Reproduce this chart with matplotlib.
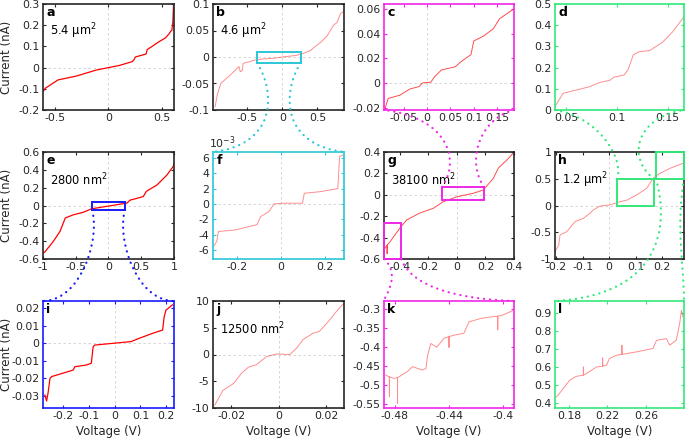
import numpy as np
import matplotlib
matplotlib.use("Agg")
import matplotlib.pyplot as plt
from matplotlib.patches import Rectangle, PathPatch
from matplotlib.path import Path
from matplotlib.ticker import FuncFormatter

plt.rcParams["font.family"] = "DejaVu Sans"
plt.rcParams["axes.unicode_minus"] = False

# ---------------------------------------------------------------------------
# I-V traces (V in volts, I in nA)
# ---------------------------------------------------------------------------
a_v = [-0.605, -0.59, -0.47, -0.30, -0.11, 0.0, 0.10, 0.22, 0.235, 0.25, 0.35, 0.36,
       0.40, 0.47, 0.53, 0.565, 0.58, 0.59, 0.60, 0.605]
a_i = [-0.11, -0.098, -0.058, -0.04, -0.011, 0.0, 0.01, 0.028, 0.035, 0.05, 0.064, 0.085,
       0.098, 0.122, 0.14, 0.16, 0.172, 0.175, 0.22, 0.29]

b_v = [-0.96, -0.93, -0.88, -0.76, -0.65, -0.62, -0.60, -0.57, -0.56, -0.5, -0.4, -0.3,
       -0.1, 0.0, 0.2, 0.3, 0.4, 0.45, 0.55, 0.64, 0.73, 0.78, 0.83, 0.88]
b_i = [-0.094, -0.072, -0.05, -0.036, -0.022, -0.018, -0.028, -0.025, -0.012, -0.01, -0.006,
       -0.004, -0.002, 0.0, 0.003, 0.007, 0.012, 0.018, 0.028, 0.04, 0.06, 0.065, 0.082, 0.086]

c_v = [-0.09, -0.083, -0.058, -0.037, -0.017, -0.01, 0.008, 0.016, 0.031, 0.06, 0.072,
       0.094, 0.10, 0.121, 0.142, 0.155, 0.178, 0.186]
c_i = [-0.021, -0.0126, -0.010, -0.005, -0.003, 0.0, 0.0005, 0.005, 0.0105, 0.013, 0.017,
       0.023, 0.034, 0.038, 0.044, 0.052, 0.058, 0.060]

d_v = [0.039, 0.047, 0.060, 0.073, 0.083, 0.093, 0.097, 0.107, 0.111, 0.116, 0.122,
       0.132, 0.145, 0.155, 0.166]
d_i = [0.016, 0.079, 0.094, 0.11, 0.13, 0.14, 0.155, 0.165, 0.19, 0.26, 0.275,
       0.28, 0.32, 0.37, 0.44]

e_v = [-0.99, -0.97, -0.84, -0.74, -0.66, -0.54, -0.38, -0.26, 0.02, 0.28, 0.33, 0.53,
       0.58, 0.74, 0.89, 0.99, 1.0]
e_i = [-0.53, -0.52, -0.40, -0.29, -0.14, -0.105, -0.075, -0.037, -0.004, 0.027, 0.06,
       0.10, 0.16, 0.23, 0.34, 0.44, 0.47]

f_v = [-0.308, -0.293, -0.285, -0.208, -0.109, -0.093, -0.055, -0.032, 0.007, 0.098,
       0.106, 0.175, 0.259, 0.267, 0.282]
f_i = [-0.0056, -0.0049, -0.0036, -0.0034, -0.0027, -0.00165, -0.0010, 0.0, 0.0001,
       0.0001, 0.0014, 0.0016, 0.0020, 0.0062, 0.0064]

g_v = [-0.505, -0.49, -0.49, -0.49, -0.47, -0.435, -0.40, -0.353, -0.26, -0.166, -0.096,
       0.0, 0.114, 0.185, 0.255, 0.29, 0.35, 0.395]
g_i = [-0.50, -0.47, -0.55, -0.47, -0.44, -0.375, -0.31, -0.235, -0.17, -0.126, -0.064,
       -0.018, 0.014, 0.045, 0.154, 0.25, 0.325, 0.39]

h_v = [-0.204, -0.19, -0.185, -0.16, -0.128, -0.097, -0.072, -0.06, -0.034, 0.004, 0.04,
       0.067, 0.104, 0.142, 0.167, 0.192, 0.23, 0.28]
h_i = [-0.86, -0.74, -0.55, -0.49, -0.30, -0.24, -0.146, -0.085, -0.01, 0.01, 0.07,
       0.10, 0.196, 0.32, 0.51, 0.60, 0.695, 0.79]

i_v = [-0.27, -0.263, -0.257, -0.25, -0.243, -0.16, -0.154, -0.109, -0.09, -0.083, -0.077,
       -0.006, 0.064, 0.096, 0.147, 0.186, 0.192, 0.199, 0.224]
i_i = [-0.0296, -0.033, -0.028, -0.020, -0.019, -0.0153, -0.0134, -0.0124, -0.0114, -0.002,
       -0.001, 0.0, 0.001, 0.0029, 0.0057, 0.0076, 0.0152, 0.019, 0.022]

j_v = [-0.027, -0.0235, -0.019, -0.0157, -0.0129, -0.0094, -0.0052, -0.001, 0.0046, 0.0075,
       0.0102, 0.0144, 0.017, 0.0215, 0.0243, 0.027]
j_i = [-9.5, -6.7, -5.4, -3.5, -2.4, -1.9, -0.4, 0.1, 0.0, 1.2, 2.8, 4.0, 4.3, 6.5, 8.1, 9.4]

k_v = [-0.4868, -0.484, -0.484, -0.484, -0.4806, -0.478, -0.478, -0.478, -0.4707, -0.467,
       -0.4597, -0.457, -0.456, -0.4535, -0.449, -0.4437, -0.440, -0.440, -0.440, -0.4363,
       -0.429, -0.4252, -0.4166, -0.4068, -0.404, -0.404, -0.404, -0.401, -0.392]
k_i = [-0.473, -0.478, -0.53, -0.478, -0.482, -0.48, -0.547, -0.48, -0.464, -0.451,
       -0.46, -0.456, -0.425, -0.39, -0.40, -0.376, -0.372, -0.40, -0.372, -0.368,
       -0.363, -0.333, -0.324, -0.319, -0.318, -0.354, -0.318, -0.316, -0.302]

l_v = [0.165, 0.170, 0.1807, 0.1877, 0.195, 0.195, 0.195, 0.198, 0.2085, 0.215, 0.215,
       0.215, 0.219, 0.222, 0.229, 0.235, 0.235, 0.235, 0.25, 0.2673, 0.2709, 0.2812,
       0.2847, 0.2915, 0.295, 0.2968, 0.2985]
l_i = [0.424, 0.452, 0.526, 0.548, 0.555, 0.60, 0.555, 0.563, 0.60, 0.605, 0.65, 0.605,
       0.61, 0.647, 0.665, 0.67, 0.72, 0.67, 0.684, 0.703, 0.748, 0.758, 0.721, 0.75,
       0.841, 0.915, 0.878]

# Axis ranges / ticks per panel
LIMS = {
    "a": ((-0.61, 0.61), (-0.2, 0.3), [-0.5, 0, 0.5], [-0.2, -0.1, 0, 0.1, 0.2, 0.3]),
    "b": ((-0.99, 0.88), (-0.1, 0.1), [-0.5, 0, 0.5], [-0.1, -0.05, 0, 0.05, 0.1]),
    "c": ((-0.092, 0.186), (-0.022, 0.064), [-0.05, 0, 0.05, 0.1, 0.15], [-0.02, 0, 0.02, 0.04, 0.06]),
    "d": ((0.039, 0.166), (0, 0.5), [0.05, 0.1, 0.15], [0, 0.1, 0.2, 0.3, 0.4, 0.5]),
    "e": ((-1, 1), (-0.6, 0.6), [-1, -0.5, 0, 0.5, 1], [-0.6, -0.4, -0.2, 0, 0.2, 0.4, 0.6]),
    "f": ((-0.31, 0.287), (-0.0072, 0.0068), [-0.2, 0, 0.2], [-0.006, -0.004, -0.002, 0, 0.002, 0.004, 0.006]),
    "g": ((-0.512, 0.4), (-0.6, 0.4), [-0.4, -0.2, 0, 0.2, 0.4], [-0.6, -0.4, -0.2, 0, 0.2, 0.4]),
    "h": ((-0.204, 0.283), (-1, 1), [-0.2, -0.1, 0, 0.1, 0.2], [-1, -0.5, 0, 0.5, 1]),
    "i": ((-0.277, 0.23), (-0.037, 0.0242), [-0.2, -0.1, 0, 0.1, 0.2], [-0.03, -0.02, -0.01, 0, 0.01, 0.02]),
    "j": ((-0.0277, 0.0274), (-10, 10), [-0.02, 0, 0.02], [-10, -5, 0, 5, 10]),
    "k": ((-0.488, -0.392), (-0.56, -0.278), [-0.48, -0.44, -0.4], [-0.55, -0.5, -0.45, -0.4, -0.35, -0.3]),
    "l": ((0.1655, 0.2995), (0.372, 0.967), [0.18, 0.22, 0.26], [0.4, 0.5, 0.6, 0.7, 0.8, 0.9]),
}
AREAS = {"a": "5.4 μm$^2$", "b": "4.6 μm$^2$", "e": "2800 nm$^2$",
         "g": "38100 nm$^2$", "h": "1.2 μm$^2$", "j": "12500 nm$^2$"}

# zoom windows drawn in the parent panels (xmin, xmax, ymin, ymax)
zoom_b_f = (-0.36, 0.26, -0.011, 0.010)
zoom_e_i = (-0.25, 0.25, -0.048, 0.042)
zoom_g_c = (-0.105, 0.19, -0.049, 0.073)
zoom_g_k = (-0.51, -0.39, -0.6, -0.264)
zoom_h_d = (0.03, 0.17, 0.0, 0.495)
zoom_h_l = (0.177, 0.283, 0.5, 1.0)

# ---------------------------------------------------------------------------
# Layout (pixels)
# ---------------------------------------------------------------------------
W, H = 685, 438
COL_X = [(43, 174), (213, 344), (384, 514), (555, 684)]
ROW_Y = [(4, 110), (152, 259), (301, 408)]

DARK = "#262626"
CYAN = "#2cc6d6"
BLUE = "#1a1aff"
MAGENTA = "#f028e6"
GREEN = "#33e87a"

EDGE = {"c": MAGENTA, "k": MAGENTA, "f": CYAN, "i": BLUE, "d": GREEN, "l": GREEN}
DATA = {"a": (a_v, a_i), "b": (b_v, b_i), "c": (c_v, c_i), "d": (d_v, d_i),
        "e": (e_v, e_i), "f": (f_v, f_i), "g": (g_v, g_i), "h": (h_v, h_i),
        "i": (i_v, i_i), "j": (j_v, j_i), "k": (k_v, k_i), "l": (l_v, l_i)}
STRONG = {"a": (1.0, 0.9), "e": (1.0, 0.9), "i": (1.0, 0.9),
          "c": (0.7, 0.7), "g": (0.7, 0.7)}

fig = plt.figure(figsize=(W / 100, H / 100), dpi=100)
fig.patch.set_facecolor("white")


def fmt(scale=1.0):
    return FuncFormatter(lambda v, p: f"{round(v * scale, 6) + 0:g}")


axes = {}
for n, key in enumerate("abcdefghijkl"):
    row, col = divmod(n, 4)
    x0, x1 = COL_X[col]
    y0, y1 = ROW_Y[row]
    ax = fig.add_axes([x0 / W, 1 - y1 / H, (x1 - x0) / W, (y1 - y0) / H])
    xlim, ylim, xt, yt = LIMS[key]
    edge = EDGE.get(key, DARK)

    if xlim[0] < 0 < xlim[1]:
        ax.axvline(0, color="#d0d0d0", lw=0.6, ls=(0, (3, 3)), zorder=1)
    if ylim[0] < 0 < ylim[1]:
        ax.axhline(0, color="#d0d0d0", lw=0.6, ls=(0, (3, 3)), zorder=1)

    alpha, lw = STRONG.get(key, (0.45, 0.7))
    v, i = DATA[key]
    ax.plot(v, i, color="red", lw=lw, alpha=alpha, zorder=2)

    ax.set_xlim(*xlim)
    ax.set_ylim(*ylim)
    ax.set_xticks(xt)
    ax.set_yticks(yt)
    ax.xaxis.set_major_formatter(fmt())
    ax.yaxis.set_major_formatter(fmt(1e3 if key == "f" else 1.0))
    ax.tick_params(direction="in", length=2.5, width=0.8, top=True, right=True,
                   color=edge, labelcolor=DARK, labelsize=7.8, pad=2.5)
    for s in ax.spines.values():
        s.set_color(edge)
        s.set_linewidth(1.2)

    ax.text(0.025, 0.985, key, transform=ax.transAxes, fontsize=9,
            fontweight="bold", va="top", ha="left", color="black")
    if key in AREAS:
        ax.text(0.055, 0.74, AREAS[key], transform=ax.transAxes, fontsize=8.3,
                va="center", ha="left", color="black")
    if col == 0:
        ax.set_ylabel("Current (nA)", fontsize=8.5, color=DARK)
        ax.yaxis.set_label_coords(-0.23, 0.5)
    if row == 2:
        ax.set_xlabel("Voltage (V)", fontsize=8.5, color=DARK)
        ax.xaxis.set_label_coords(0.5, -0.16)
    axes[key] = ax

axes["f"].text(-0.03, 1.01, "10$^{-3}$", transform=axes["f"].transAxes,
               fontsize=7.8, color=DARK, ha="left", va="bottom")

# ---------------------------------------------------------------------------
# Zoom boxes and dotted connectors
# ---------------------------------------------------------------------------
to_fig = fig.transFigure.inverted()


def connector(p0, p3, xc, a, b, f1, f2, color):
    x0, y0 = p0
    x3, y3 = p3
    c1 = (x0 + a * (xc - x0), y0 + f1 * (y3 - y0))
    c2 = (x0 + b * (x3 - x0), y0 + f2 * (y3 - y0))
    pts = to_fig.transform([p0, c1, c2, p3])
    path = Path(pts, [Path.MOVETO, Path.CURVE4, Path.CURVE4, Path.CURVE4])
    fig.add_artist(PathPatch(path, transform=fig.transFigure, fill=False, ec=color,
                             lw=1.6, ls=(0, (0.1, 2.6)), capstyle="round", zorder=10))


def zoom_link(parent, child, win, color, down, left_p, right_p):
    ax = axes[parent]
    x0, x1, y0, y1 = win
    ax.add_patch(Rectangle((x0, y0), x1 - x0, y1 - y0, fill=False, ec=color,
                           lw=1.4, clip_on=False, zorder=5))
    yr = y0 if down else y1
    pl = ax.transData.transform((x0, yr))
    pr = ax.transData.transform((x1, yr))
    xc = (pl[0] + pr[0]) / 2
    cax = axes[child]
    cy = 1 if down else 0
    ql = cax.transAxes.transform((0, cy))
    qr = cax.transAxes.transform((1, cy))
    connector(pl, ql, xc, *left_p, color)
    connector(pr, qr, xc, *right_p, color)


zoom_link("b", "f", zoom_b_f, CYAN, True, (0.9, -0.4, 0.36, 0.92), (0.9, -0.4, 0.36, 0.92))
zoom_link("e", "i", zoom_e_i, BLUE, True, (0.5, 0.24, 0.33, 1.0), (0.5, 0.24, 0.33, 1.0))
zoom_link("g", "c", zoom_g_c, MAGENTA, False, (0.9, -0.1, 0.35, 0.9), (0.9, -0.1, 0.35, 0.9))
zoom_link("g", "k", zoom_g_k, MAGENTA, True, (2.0, 0.0, 0.4, 0.9), (-0.6, 0.26, 0.38, 0.93))
zoom_link("h", "d", zoom_h_d, GREEN, False, (0.4, 0.3, 0.3, 0.9), (1.5, -0.6, 0.3, 0.9))
zoom_link("h", "l", zoom_h_l, GREEN, True, (1.0, -0.04, 0.4, 0.95), (0.6, 0.0, 0.4, 0.7))

fig.savefig("out.png", dpi=100)
